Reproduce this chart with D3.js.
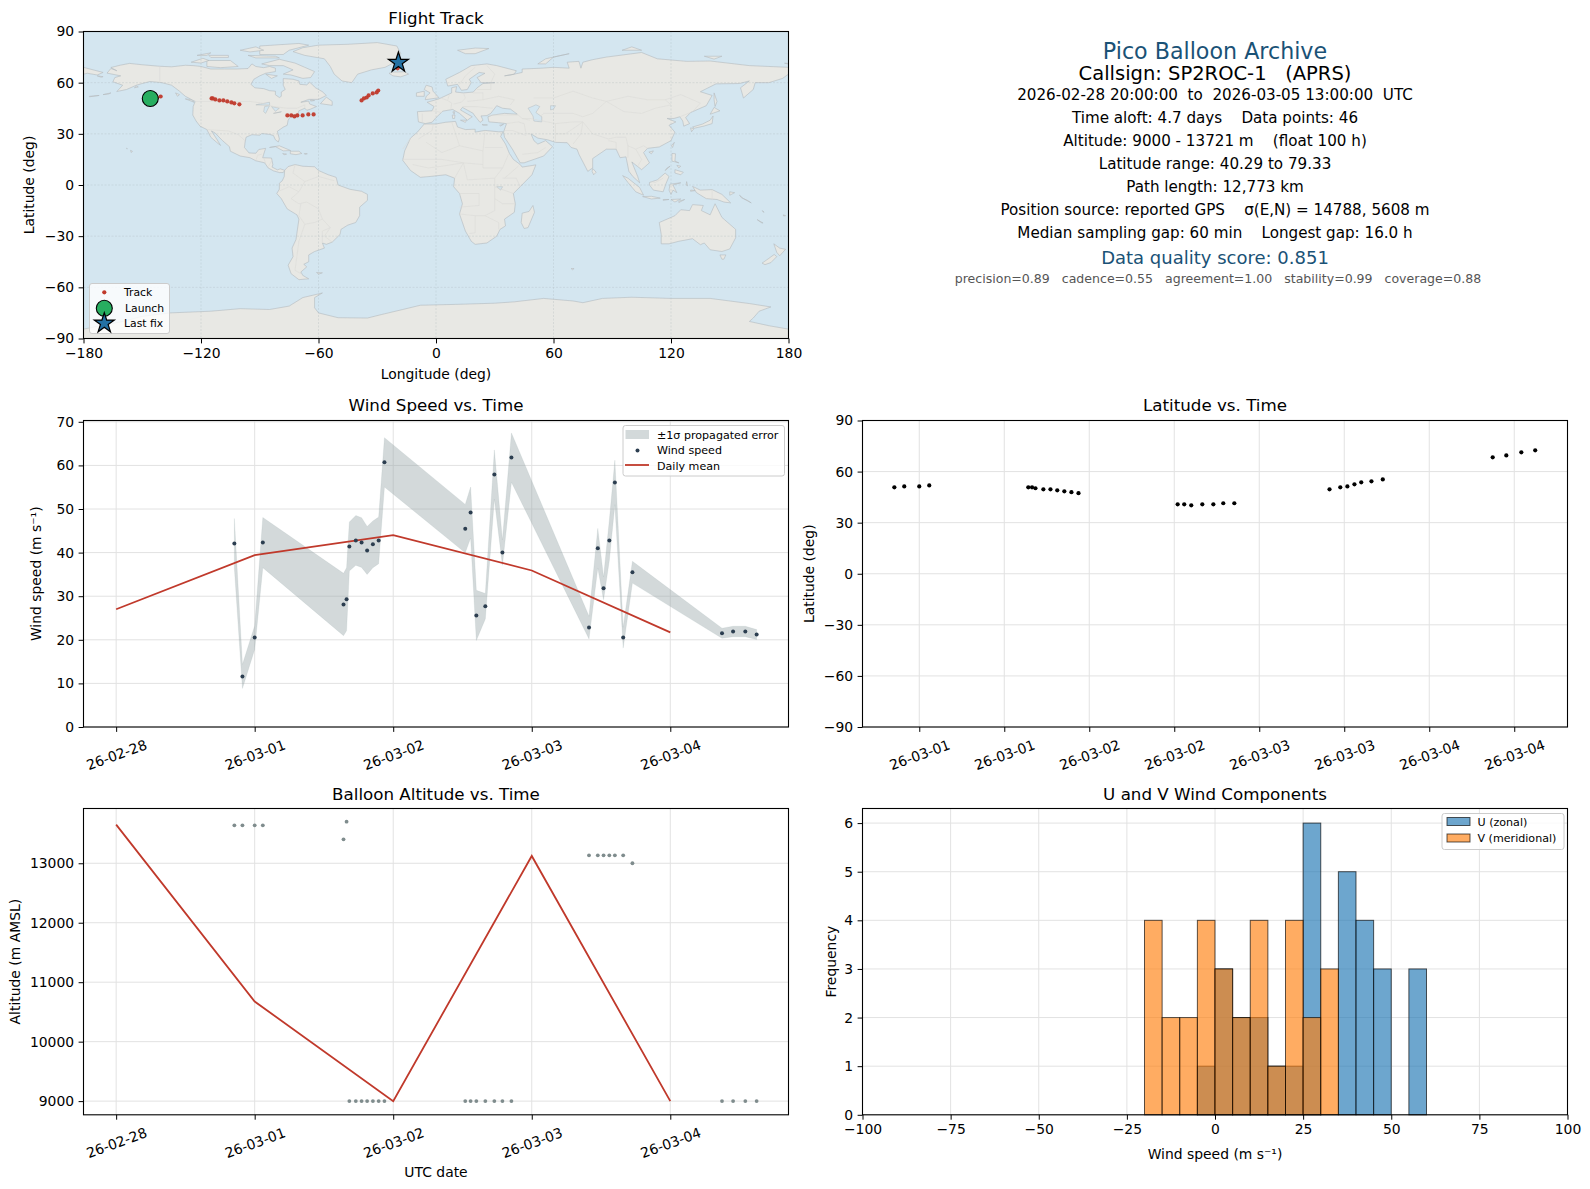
<!DOCTYPE html>
<html><head><meta charset="utf-8">
<script src="https://cdn.jsdelivr.net/npm/d3@7"></script>
<style>
html,body{margin:0;padding:0;background:#fff}
svg{display:block}
text{font-family:"DejaVu Sans",sans-serif;fill:#000}
</style></head><body><svg id="c" width="1590" height="1189"></svg>
<script>
// ---- shared sample times: hours since 2026-02-28 00:00 ----
const hours=[19.6,21.35,24,25.76,43.24,43.9,44.5,45.9,47.15,48.35,49.6,50.85,52.1,69.6,70.76,72,73.95,75.9,77.65,79.6,96.4,98.3,99.55,100.8,102,103.8,105.8,125.2,127.6,130.25,132.7];
const windSpeed=[42.1,11.6,20.5,42.3,28.1,29.3,41.4,42.8,42.3,40.5,41.9,42.8,60.7,45.5,49.2,25.6,27.7,57.9,40.0,61.8,22.8,41.0,31.8,42.8,56.1,20.5,35.5,21.5,21.9,21.9,21.2];
const windSigma=[5.7,2.75,2.7,5.75,7.15,7.2,5.6,5.7,5.7,5.5,5.35,5.35,5.65,5.55,5.85,5.75,2.9,5.65,2.9,5.65,2.6,4.55,2.6,4.6,5.1,2.4,2.5,1.15,1.2,1.2,1.15];
const latitude=[50.75,51.3,51.3,51.9,50.75,50.75,50.2,49.6,49.6,49,48.4,47.9,47.3,40.8,40.8,40.2,40.8,40.8,41.4,41.4,49.6,50.75,51.3,52.5,53.7,54.3,55.4,68.4,69.5,71.3,72.5];
const longitude=[-145.9,-144.5,-142.5,-140.6,-114.6,-114,-112.7,-110.6,-108.6,-106.6,-104.5,-103,-100.4,-75.9,-73.9,-72.3,-70.8,-68.1,-65.2,-62.5,-38,-36.8,-35.4,-34.4,-32.3,-30.3,-29.5,-19.6,-19.5,-19.3,-19.2];
const altitude=[13638,13638,13638,13638,13403,13700,9000,9000,9000,9000,9000,9000,9000,9000,9000,9000,9000,9000,9000,9000,13134,13134,13134,13134,13134,13134,13000,9000,9000,9000,9000];
// ---- daily means ----
const dayHours=[-6,24,54,84,114];
const dayLabels=["26-02-28","26-03-01","26-03-02","26-03-03","26-03-04"];
const windMean=[27,39.4,44,35.9,21.7];
const altMean=[13650,10675,9000,13123,9000];
// ---- latitude panel ticks ----
const latTickHours=[24,39,54,69,84,99,114,129];
const latTickLabels=["26-03-01","26-03-01","26-03-02","26-03-02","26-03-03","26-03-03","26-03-04","26-03-04"];
// ---- histogram ----
const binStart=[-5,0,5,10,15,20,25,30,35,40,45,50,55];
const uCounts=[1,3,2,2,1,1,6,0,5,4,3,0,3];
const vBinStart=[-20,-15,-10,-5,0,5,10,15,20,25,30];
const vCounts=[4,2,2,4,3,2,4,1,4,2,3];
// ---- info text ----
const infoTitle="Pico Balloon Archive";
const infoCall="Callsign: SP2ROC-1   (APRS)";
const infoLines=["2026-02-28 20:00:00  to  2026-03-05 13:00:00  UTC","Time aloft: 4.7 days    Data points: 46","Altitude: 9000 - 13721 m    (float 100 h)","Latitude range: 40.29 to 79.33","Path length: 12,773 km","Position source: reported GPS    σ(E,N) = 14788, 5608 m","Median sampling gap: 60 min    Longest gap: 16.0 h"];
const infoScore="Data quality score: 0.851";
const infoSub="precision=0.89   cadence=0.55   agreement=1.00   stability=0.99   coverage=0.88";
// ---- land outlines [lon,lat] ----
const land=[
[[-168,65.6],[-166,68.3],[-163,67],[-166,68.9],[-161,70.3],[-156.5,71.3],[-150,70.5],[-141,69.6],[-135,69.3],[-128,70.2],[-124,70],[-120,69.5],[-115,68],[-108,68],[-102,68],[-96,68.3],[-94,71],[-92,69.5],[-88,68.8],[-85,69.5],[-82,68.5],[-82,66.5],[-87,65.5],[-90,64],[-93,62],[-94.5,59],[-92.5,57],[-88,56.5],[-85,55.3],[-82,55],[-82,52.9],[-80,51.3],[-79,52],[-79,54.5],[-77,56],[-78,58.5],[-78,62.4],[-73,62],[-70,61],[-69.5,59],[-66,58.7],[-64.5,60.3],[-61.5,57],[-58,54.7],[-56,52.5],[-60,50.2],[-65,50.2],[-69,48.5],[-65,49.2],[-64.5,47.5],[-61,46],[-64,44.5],[-66,43.8],[-67,45],[-70,43.5],[-70.5,41.7],[-74,40.6],[-75.5,38],[-76,35],[-78,33.9],[-81,31.5],[-80,27],[-80.5,25.2],[-82,26.5],[-83,29],[-85,29.7],[-89,30.2],[-90,29.2],[-94,29.5],[-97,28],[-97.5,25],[-97.8,22],[-95.5,18.8],[-92,18.6],[-90.5,20.8],[-87,21.5],[-88,18],[-88.5,16],[-84,15.8],[-83.3,12],[-83.7,10.5],[-81,8.9],[-79.5,9.5],[-77.3,8.6],[-78,7.3],[-80,7.3],[-83,8.3],[-85.7,10],[-87.5,13],[-92,14.2],[-95,16],[-100,17],[-105,19.8],[-105.5,22.5],[-109,26],[-112.8,30.5],[-114.7,31.7],[-112,27],[-110,23.2],[-112,25],[-115,28],[-117,32.5],[-120.5,34.5],[-122.5,37.5],[-124.2,41],[-124,46],[-123,49],[-128,52],[-131,55],[-135,58.5],[-140,60],[-146,60.7],[-150,59.5],[-153,58.5],[-158,56],[-163,54.8],[-160,58.5],[-165,60.5],[-164,63],[-161,64],[-168,65.6]],
[[-73,78.2],[-68,80.5],[-60,82],[-45,82.5],[-30,83.5],[-20,81.5],[-18,77],[-21,72],[-26,69],[-33,67.5],[-40,65],[-43,60],[-48,61],[-52,65],[-54,69.5],[-57,74],[-67,76],[-73,78.2]],
[[-80,73.7],[-72,71.5],[-67,69],[-62,66.5],[-64,63],[-68,62.5],[-74,64.5],[-78,65],[-73,67.5],[-78,70],[-85,70],[-89,71],[-80,73.7]],
[[-117,73],[-105,73],[-101,69.5],[-110,68.8],[-117,69.5]],[[-125,72],[-119,74.3],[-116,73],[-120,71.5]],
[[-90,76.5],[-78,76.5],[-75,79],[-65,82],[-70,83],[-90,81.5]],[[-96,76],[-82,75.5],[-80,74.5],[-92,74.5]],
[[-116,76],[-106,76],[-106,74.8],[-115,74.8]],[[-100,79],[-92,81],[-88,79],[-95,78]],[[-122,76],[-115,77.5],[-117,76]],[[-87,65],[-81,64],[-84,62.5]],
[[-59,47.7],[-53,46.7],[-53,49],[-56,51.5]],[[-128,50.5],[-123.5,48.5],[-125,50]],[[-133,54],[-131,53],[-132,52]],[[-64,49.9],[-62,49.5],[-64,49.2]],
[[-85,22],[-80,23],[-74.2,20.2],[-78,20],[-82,22.5]],[[-74.4,19.8],[-70,19.8],[-68.5,18.5],[-71.5,17.8],[-74.4,18.3]],[[-78.3,18.4],[-76.3,18.1],[-77.5,17.8]],[[-67.2,18.5],[-65.7,18.3],[-67,18]],
[[-156,20.3],[-155,19.8],[-155.6,19]],[[-158,21.6],[-157.6,21.3],[-158,21.3]],
[[-177,52],[-172,52.5],[-177,51.7]],[[-170,53],[-166,54],[-167,53.4]],[[-153,58],[-152,57.5],[-154,57]],[[-173,64],[-170,63.5],[-171,63.2]],
[[-77.3,8.6],[-75.5,10.8],[-72,12],[-68,11],[-62,10.7],[-60,8.5],[-55,6],[-51,4.5],[-50,0],[-44,-2.5],[-38,-3.7],[-35,-5.5],[-35,-9],[-39,-13],[-39,-18],[-41,-22],[-45,-23.5],[-48.5,-26],[-49,-29],[-53,-33.5],[-56,-34.8],[-58,-34],[-57,-37],[-62,-39],[-65,-41],[-65,-45],[-67.5,-46.5],[-66,-48],[-69,-51],[-68,-53],[-65,-55],[-70,-55.5],[-74,-52],[-75.5,-47],[-73,-42],[-73.5,-37],[-71.5,-32],[-70,-20],[-71,-17.5],[-76,-14],[-79,-8],[-81.3,-5],[-80,-2.5],[-80,1],[-78.5,2.5],[-77.5,5]],
[[-61,-51.3],[-58,-51.5],[-60,-52.3]],
[[-6,35.8],[0,35.8],[5,36.8],[10,37.3],[11,34],[15,32.5],[20,32.7],[20,31],[25,32],[32,31.2],[34.3,31.2],[33,28.5],[35.5,24],[37.5,18.5],[39.5,15],[43,12],[44,10.5],[51,11.8],[49,6],[43,-1],[39.5,-5],[40.5,-11],[40,-16],[35,-20],[35.5,-24],[32.7,-26],[31,-30],[26,-34],[20,-34.8],[18,-33],[15,-27],[12,-17],[13.5,-11],[12,-5],[9,-1],[9.5,4],[5,6],[-3,5],[-8,4.5],[-13,8.5],[-17,14.5],[-16,20],[-13,27.5],[-9.5,31]],
[[-9,37],[-9.5,43],[-2,43.5],[-1,46],[-4.5,48.5],[1.5,50.5],[8,54],[8,57],[10.5,57.7],[10,54.5],[14,54],[19,54.5],[21,57],[24,59.5],[30,60],[23,60],[21,63],[25,65.5],[22,66],[17,62],[18,60],[16,56],[13,55.5],[11,59],[6,58],[5,62],[12,66],[18,70],[26,71],[31,70],[41,67],[40,65],[35,64],[38,64.5],[44,66],[44,68],[54,68.5],[60,69],[68,68.5],[67,72],[73,72.5],[74,68.5],[75,72],[80,73.5],[87,75],[105,77.7],[113,74],[128,72.5],[140,72.7],[160,70],[170,69.5],[180,69],[180,65],[177,62.5],[170,60],[163,60],[162,56],[157,51],[155.5,57],[160,61],[155,59.5],[143,59.3],[135,54.7],[141,52.5],[138,46.5],[130,42.5],[127.5,39.5],[129.5,36],[126.5,34.5],[126,37.5],[124.5,40],[121.5,39],[118,39],[122.5,37],[119,35],[122,31],[120,26],[114,22.3],[108,21.5],[106,19],[109,13],[105,9],[100,13.5],[103,5],[104,1.3],[100.5,5],[98.5,8],[97,16.5],[94,16],[92,21],[87,21],[80,15.5],[80,10],[77.5,8],[73,18],[72,21],[69,22],[67,24.8],[61,25],[57,26.5],[52,27.5],[48.5,30],[50,26],[52,24],[56,26],[59.5,22.5],[55,17],[45,13],[43,13],[39,21],[35,28],[34.5,31],[36,36],[32,36.5],[27,37],[26.5,40],[29,41],[35,42],[41.5,41.5],[38,44.5],[34,45],[31,46.5],[28,42],[26,40.7],[23,40.5],[24,38],[22.5,36.7],[19.5,41],[19,42],[13.5,45.5],[12.5,44],[18.5,40],[16,38],[12,42],[8.5,44.3],[3.5,43.3],[0,39.5],[-2,36.8],[-5.5,36]],
[[-180,69],[-175,67.5],[-170,66],[-173,64.5],[-178,65.5],[-180,65]],
[[-5.5,50],[1.5,51.2],[-1.5,55],[-2,57.5],[-5,58.5],[-6,56],[-3,54],[-5,52]],[[-10,52],[-6,52],[-6,55],[-10,54]],
[[-24,65.5],[-22,64],[-18,63.4],[-14,65],[-16,66.4],[-22,66.2]],[[11,79],[20,80.3],[27,80],[20,77],[15,77]],[[52,71],[56,74],[68,77],[60,75],[56,71]],
[[95,79],[105,79],[100,81]],[[137,75.5],[146,75.5],[142,73.8]],[[178,71.4],[180,71.3],[180,70.9]],[[142,54],[143.5,49],[142.5,46],[142,50]],
[[140,41.5],[145,43.5],[142,45.5]],[[131,34],[136,35.7],[140,38],[141.5,40.5],[141,36],[137,34.6],[132,33.3]],[[130,33.5],[131.7,33],[130.5,31.2]],[[120.2,23],[121.7,25],[120.8,22]],[[108.7,19.3],[111,20],[110,18.3]],
[[120.5,18.5],[122.3,18.3],[122,14],[124,13],[120.5,14]],[[122,9],[126.3,7.5],[125,6],[122,7]],[[118,10],[119.5,11],[117,8.5]],[[123,11.5],[125,11],[124,10]],
[[109,1.5],[113,3],[117,7],[119,5],[117.5,1],[116,-4],[111,-3],[109,0]],[[95.3,5.5],[98,4],[104,-1.5],[106,-6],[102,-4],[98,1.5]],[[105.5,-6.8],[110,-6.6],[114.5,-7.7],[110,-8.2]],
[[119.5,0.5],[125,1.3],[121,0],[123,-4.5],[121,-3],[120,-5.5],[119,-3]],[[128,2],[128.5,-0.5],[127.7,0]],[[116,-8.5],[119,-8.5],[116,-9]],[[120,-8.5],[125,-8.2],[122,-10]],[[124,-9.5],[127,-8.5],[124,-10.3]],[[130,-3],[133,-3.2],[130,-3.7]],
[[131,-0.8],[135,-3],[141,-2.7],[146,-5.5],[150.5,-10.5],[147,-10],[143.5,-8.5],[138,-8],[133,-4.5]],[[150,-4],[152.5,-4.5],[150,-6]],[[155,-6],[156,-7.5],[159,-9],[161,-10.5],[157,-8]],
[[114,-22],[122,-18],[125,-14.5],[129.5,-15],[131,-11.5],[136.5,-12],[135.5,-15],[140,-17.5],[142.5,-11],[146,-19],[153,-26],[153,-31],[150,-37.5],[146,-39],[140,-38],[137,-34],[135,-35],[131,-31.5],[124,-33],[119,-34.5],[115,-34.5],[115,-29]],
[[145,-41],[148,-41],[147,-43.5],[146,-43.5]],[[172.5,-34.5],[175.5,-37],[178.5,-37.7],[175.5,-41.5],[174,-39.5]],[[172.7,-40.7],[174,-42],[171,-45.5],[168,-46.7],[166.5,-45.8],[170,-43]],
[[164,-20.3],[167,-22.3],[166,-22]],[[177.3,-17.5],[178.5,-18],[177.5,-18.2]],[[166.7,-15],[167.5,-16],[167,-15.8]],
[[44,-16.5],[47.5,-15.5],[49.5,-12],[50.3,-16],[47,-25],[45,-25.5],[43.5,-22]],[[80,9.7],[81.8,7.5],[80.5,6],[79.7,8]],[[69,-49],[70.5,-49],[69.7,-49.7]],
[[12.5,38],[15.6,38],[15,36.7]],[[8.3,41],[9.7,41],[9.5,39],[8.5,39]],[[8.6,42.9],[9.5,43],[9.3,41.5]],[[23.5,35.5],[26.3,35.2],[24,35]],[[32.5,35],[34.5,35.6],[33,34.6]],
[[-180,-84.5],[-160,-80],[-150,-77],[-136,-75],[-115,-74],[-100,-72.5],[-85,-73],[-75,-71],[-68,-66],[-58,-63.3],[-62,-66],[-62,-72],[-60,-75],[-50,-77.8],[-35,-78],[-28,-76],[-17,-73],[-8,-70.5],[10,-70],[30,-69.3],[40,-68.5],[55,-66.5],[70,-68],[75,-69],[85,-66.5],[100,-65.8],[120,-66.5],[140,-66.5],[160,-69.5],[171,-71.5],[165,-74],[162,-78],[160,-80],[170,-82.5],[180,-84.5],[180,-90],[-180,-90]]
];
const inlandSeas=[[[47,45],[51,47],[53,46],[51,42.5],[54,40],[54,37],[50,37.5],[49.5,40.5]],[[58.5,46.5],[61,46.5],[60,44.5],[58.5,44]],[[-87.5,46],[-85,46.5],[-87,42],[-88,43]],[[-92,47],[-85,48.5],[-85,46.8]],[[-84,46],[-80,45],[-82,43.2]],[[-83,42],[-79,43],[-79,42.8]],[[31,-1],[34,-1],[33,-3]]];
const borders=[[[-141,69.6],[-141,60]],[[-123,49],[-95,49],[-89,48],[-83,46],[-76,45],[-71,45],[-67,47],[-67,45]],[[-117,32.5],[-106,31.7],[-101,29.5],[-97.5,26]],[[-92,14.5],[-91,17.5],[-89,18]],[[-88,16],[-87,13]],[[-83.5,15],[-85.5,11]],[[-72,12],[-73,7],[-67,2],[-70,-4],[-74,-8],[-70,-11],[-66,-10],[-60,-14],[-58,-20],[-54,-25],[-57,-30],[-53,-33.5]],[[-60,8.5],[-60,5],[-52,2.5]],[[-67,2],[-60,5]],[[-80,-3.5],[-75,-1],[-70,-4]],[[-70,-18],[-69,-11]],[[-70,-18],[-67,-23],[-70,-33],[-72,-50],[-69,-52]],[[-67,-23],[-62,-22],[-58,-20]],[[-58,-34],[-58,-27],[-54,-25]],
[[-9,27],[-2,32],[-1.5,35]],[[-17,21],[-13,27.5]],[[-5,25],[3,19],[12,23],[10,30],[8,37]],[[12,23],[24,20],[25,32]],[[24,20],[24,10],[34,10],[37,18]],[[34,22],[25,22]],[[-17,15],[-5,15],[3,15],[14,13],[24,12]],[[-12,12],[-4,10],[3,11],[14,13]],[[9.5,4],[14,13]],[[14,13],[16,3],[30,4],[34,10]],[[30,4],[30,-8],[30,-15],[25,-18],[20,-18],[12,-17]],[[12,-5],[22,-5],[22,-12],[12,-13]],[[34,4],[41,4],[43,-1]],[[39.5,-5],[30,-1]],[[40.5,-11],[34,-11],[30,-8]],[[20,-18],[20,-28],[17,-28.5]],[[25,-18],[32,-22],[32,-26]],[[35,4],[42,11]],
[[-2,43.5],[3,42.5]],[[-7,42],[-7,37]],[[2.5,51],[6,49.5],[8,48],[7.5,44]],[[7,53.5],[6,50]],[[14,54],[15,51],[13,48.5],[9,47.5]],[[13.5,46],[20,46],[29,45]],[[19,54],[24,54],[24,50],[16,49]],[[24,50],[32,52],[40,50],[38,47]],[[21,56],[28,56],[28,60]],[[12,59],[15,64],[20,69]],[[26,70],[30,65],[28,60]],
[[27,41],[42,41],[44,39],[48,38]],[[36,36],[42,37],[45,36],[46,30],[48,30]],[[35,32],[39,32],[46,29]],[[44,18],[52,19],[56,22]],[[44,39],[48,39],[61,36],[61,30],[61,25]],[[61,36],[70,37],[75,37]],[[61,30],[66,30],[70,33],[75,37]],[[75,37],[74,30],[70,24]],[[75,37],[80,30],[88,27],[92,28],[97,28]],[[50,51],[60,51],[70,55],[80,51],[87,49],[98,52],[108,50],[117,50],[125,53],[135,48],[131,43]],[[87,49],[80,42],[75,40],[70,42],[55,42],[53,40]],[[87,49],[96,43],[105,42],[112,45],[120,47],[117,50]],[[97,28],[98,23],[102,21],[106,23],[108,21.5]],[[92,21],[92,25],[88,26]],[[98,23],[98,16]],[[102,21],[105,15],[103,11]],[[124.5,40],[130,42.5]],[[116,4],[112,1.5],[109.5,2]],[[141,-2.7],[141,-9]]
];

const svg=d3.select("#c");
const P={L:[83.5,788.5],R:[862.5,1567.5],R1:[31.5,338.5],R2:[420.5,727],R3:[808.5,1114.8]};
const gridC="#e2e2e2",tickFs=13.9,labFs=13.9,titleFs=16.7,legFs=11.1;

function mkAxes(xr,yr,title,xlab,ylab,yOff,tOff){
  const g=svg.append("g");
  g.append("text").attr("x",(xr[0]+xr[1])/2).attr("y",yr[0]-(tOff||7.5)).attr("text-anchor","middle").attr("font-size",titleFs).text(title);
  if(xlab) g.append("text").attr("class","xl").attr("x",(xr[0]+xr[1])/2).attr("text-anchor","middle").attr("font-size",labFs).text(xlab);
  if(ylab) g.append("text").attr("transform",`translate(${xr[0]-yOff},${(yr[0]+yr[1])/2}) rotate(-90)`).attr("text-anchor","middle").attr("font-size",labFs).text(ylab);
  return g;
}
function axes(xS,yS,yr,xr,xVals,xFmt,yVals,rot){
  const ax=svg.append("g").attr("transform",`translate(0,${yr[1]})`)
    .call(d3.axisBottom(xS).tickValues(xVals).tickFormat(xFmt).tickSize(4.9).tickPadding(4.5).tickSizeOuter(0));
  const ay=svg.append("g").attr("transform",`translate(${xr[0]},0)`)
    .call(d3.axisLeft(yS).tickValues(yVals).tickFormat(d3.format("d")).tickSize(4.9).tickPadding(4.5).tickSizeOuter(0));
  [ax,ay].forEach(a=>{a.select(".domain").remove();a.selectAll("line").attr("stroke","#000").attr("stroke-width",1);a.selectAll("text").attr("font-size",tickFs).attr("font-family","DejaVu Sans").attr("fill","#000");});
  if(rot) ax.selectAll("text").attr("text-anchor","middle").attr("y",0).attr("dy",".35em").attr("transform","translate(0,28) rotate(-20)");
}
function frame(xr,yr){svg.append("rect").attr("x",xr[0]).attr("y",yr[0]).attr("width",xr[1]-xr[0]).attr("height",yr[1]-yr[0]).attr("fill","none").attr("stroke","#000").attr("stroke-width",1.1);}
function grid(g,xS,yS,xVals,yVals,yr,xr,col,dash,w){
  g.selectAll(null).data(xVals).join("line").attr("x1",d=>xS(d)).attr("x2",d=>xS(d)).attr("y1",yr[0]).attr("y2",yr[1]).attr("stroke",col).attr("stroke-width",w||1).attr("stroke-dasharray",dash||null);
  g.selectAll(null).data(yVals).join("line").attr("y1",d=>yS(d)).attr("y2",d=>yS(d)).attr("x1",xr[0]).attr("x2",xr[1]).attr("stroke",col).attr("stroke-width",w||1).attr("stroke-dasharray",dash||null);
}
function clip(id,xr,yr){svg.append("clipPath").attr("id",id).append("rect").attr("x",xr[0]).attr("y",yr[0]).attr("width",xr[1]-xr[0]).attr("height",yr[1]-yr[0]);}
function legendBox(x,y,w,h){svg.append("rect").attr("x",x).attr("y",y).attr("width",w).attr("height",h).attr("rx",2.5).attr("fill","#fff").attr("fill-opacity",.8).attr("stroke","#ccc").attr("stroke-width",1);}
function legText(x,y,t,fs){svg.append("text").attr("x",x).attr("y",y).attr("dy",".35em").attr("font-size",fs||legFs).text(t);}

// ======== Map ========
{
  const xr=P.L,yr=P.R1;
  const xS=d3.scaleLinear().domain([-180,180]).range(xr),yS=d3.scaleLinear().domain([-90,90]).range([yr[1],yr[0]]);
  const lonT=d3.range(-180,181,60),latT=d3.range(-90,91,30);
  clip("cm",xr,yr);
  const g=svg.append("g").attr("clip-path","url(#cm)");
  g.append("rect").attr("x",xr[0]).attr("y",yr[0]).attr("width",xr[1]-xr[0]).attr("height",yr[1]-yr[0]).attr("fill","#d4e6f1");
  const line=d3.line().x(d=>xS(d[0])).y(d=>yS(d[1]));
  g.selectAll(null).data(land).join("path").attr("d",d=>line(d)+"Z").attr("fill","#e8e8e4").attr("stroke","#b4babd").attr("stroke-width",.6).attr("stroke-linejoin","round");
  g.selectAll(null).data(inlandSeas).join("path").attr("d",d=>line(d)+"Z").attr("fill","#d4e6f1").attr("stroke","#b4babd").attr("stroke-width",.5);
  g.selectAll(null).data(borders).join("path").attr("d",line).attr("fill","none").attr("stroke","#dcdcd8").attr("stroke-width",.6);
  const gg=g.append("g");grid(gg,xS,yS,lonT,latT,yr,xr,"#a9b4b8","2,1.5",.5);gg.attr("opacity",.6);
  g.selectAll(null).data(d3.zip(longitude,latitude)).join("circle").attr("cx",d=>xS(d[0])).attr("cy",d=>yS(d[1])).attr("r",2.1).attr("fill","#c0392b").attr("fill-opacity",.95);
  const star=d3.symbol().type(d3.symbolStar);
  g.append("circle").attr("cx",xS(longitude[0])).attr("cy",yS(latitude[0])).attr("r",8).attr("fill","#27ae60").attr("stroke","#000").attr("stroke-width",1.1);
  const lastI=longitude.length-1;
  svg.append("path").attr("d",star.size(125)()).attr("transform",`translate(${xS(longitude[lastI])},${yS(71.8)})`).attr("fill","#2471a3").attr("stroke","#000").attr("stroke-width",1.2);
  mkAxes(xr,yr,"Flight Track","Longitude (deg)","Latitude (deg)",50).select(".xl").attr("y",yr[1]+40);
  axes(xS,yS,yr,xr,lonT,d3.format("d"),latT,false);
  frame(xr,yr);
  legendBox(89.5,283.5,80,50);
  svg.append("circle").attr("cx",104.3).attr("cy",292.3).attr("r",2.1).attr("fill","#c0392b");
  svg.append("circle").attr("cx",104.3).attr("cy",308.3).attr("r",8).attr("fill","#27ae60").attr("stroke","#000").attr("stroke-width",1.1);
  svg.append("path").attr("d",star.size(125)()).attr("transform","translate(104.3,323.3)").attr("fill","#2471a3").attr("stroke","#000").attr("stroke-width",1.2);
  legText(124,292.5,"Track",10.8);legText(125,308,"Launch",10.8);legText(124,323,"Last fix",10.8);
}
// ======== Info ========
{
  const cx=(P.R[0]+P.R[1])/2;
  const t=(y,s,fs,c,dx)=>svg.append("text").attr("x",cx+(dx||0)).attr("y",y).attr("text-anchor","middle").attr("xml:space","preserve").style("white-space","pre").attr("font-size",fs).style("fill",c||"#000").text(s);
  t(58.5,infoTitle,22.2,"#1a5276");
  t(80,infoCall,19.5,"#000");
  const ys=[100,123,146,168.5,191.5,214.5,238];
  infoLines.forEach((s,i)=>t(ys[i],s,15.15,"#000"));
  t(263.5,infoScore,18,"#1a5276");
  t(283,infoSub,12.55,"#555",3);
}
// ======== Wind ========
{
  const xr=P.L,yr=P.R2;
  const xS=d3.scaleLinear().domain([-13.07,139.6]).range(xr),yS=d3.scaleLinear().domain([0,70.3]).range([yr[1],yr[0]]);
  grid(svg.append("g"),xS,yS,dayHours,d3.range(0,71,10),yr,xr,gridC);
  const rows=hours.map((h,i)=>({h,v:windSpeed[i],s:windSigma[i]}));
  svg.append("path").attr("d",d3.area().x(d=>xS(d.h)).y0(d=>yS(d.v-d.s)).y1(d=>yS(d.v+d.s))(rows)).attr("fill","#95a5a6").attr("fill-opacity",.42).attr("stroke","#95a5a6").attr("stroke-opacity",.15);
  svg.append("path").attr("d",d3.line().x((d,i)=>xS(dayHours[i])).y(d=>yS(d))(windMean)).attr("fill","none").attr("stroke","#c0392b").attr("stroke-width",1.8);
  svg.selectAll(null).data(rows).join("circle").attr("cx",d=>xS(d.h)).attr("cy",d=>yS(d.v)).attr("r",2).attr("fill","#2c3e50");
  mkAxes(xr,yr,"Wind Speed vs. Time",null,"Wind speed (m s⁻¹)",43,9.5);
  axes(xS,yS,yr,xr,dayHours,(d,i)=>dayLabels[i],d3.range(0,71,10),true);
  frame(xr,yr);
  legendBox(623,425.5,161.5,50.5);
  svg.append("rect").attr("x",625.5).attr("y",430).attr("width",23.5).attr("height",9).attr("fill","#95a5a6").attr("fill-opacity",.42);
  svg.append("circle").attr("cx",637.5).attr("cy",450.5).attr("r",2).attr("fill","#2c3e50");
  svg.append("line").attr("x1",625).attr("x2",649).attr("y1",465).attr("y2",465).attr("stroke","#c0392b").attr("stroke-width",1.8);
  legText(657,435.5,"±1σ propagated error");legText(657,450.5,"Wind speed");legText(657,466,"Daily mean");
}
// ======== Latitude ========
{
  const xr=P.R,yr=P.R2;
  const xS=d3.scaleLinear().domain([13.98,138.4]).range(xr),yS=d3.scaleLinear().domain([-90,90]).range([yr[1],yr[0]]);
  const latT=d3.range(-90,91,30);
  grid(svg.append("g"),xS,yS,latTickHours,latT,yr,xr,gridC);
  svg.selectAll(null).data(d3.zip(hours,latitude)).join("circle").attr("cx",d=>xS(d[0])).attr("cy",d=>yS(d[1])).attr("r",2.1).attr("fill","#000");
  mkAxes(xr,yr,"Latitude vs. Time",null,"Latitude (deg)",49,9.5);
  axes(xS,yS,yr,xr,latTickHours,(d,i)=>latTickLabels[i],latT,true);
  frame(xr,yr);
}
// ======== Altitude ========
{
  const xr=P.L,yr=P.R3;
  const xS=d3.scaleLinear().domain([-13.07,139.6]).range(xr),yS=d3.scaleLinear().domain([8770,13921]).range([yr[1],yr[0]]);
  const yT=[9000,10000,11000,12000,13000];
  grid(svg.append("g"),xS,yS,dayHours,yT,yr,xr,gridC);
  svg.selectAll(null).data(d3.zip(hours,altitude)).join("circle").attr("cx",d=>xS(d[0])).attr("cy",d=>yS(d[1])).attr("r",1.9).attr("fill","#7f8c8d");
  svg.append("path").attr("d",d3.line().x((d,i)=>xS(dayHours[i])).y(d=>yS(d))(altMean)).attr("fill","none").attr("stroke","#c0392b").attr("stroke-width",1.8);
  mkAxes(xr,yr,"Balloon Altitude vs. Time","UTC date","Altitude (m AMSL)",64,8.5).select(".xl").attr("y",yr[1]+62);
  axes(xS,yS,yr,xr,dayHours,(d,i)=>dayLabels[i],yT,true);
  frame(xr,yr);
}
// ======== Histogram ========
{
  const xr=P.R,yr=P.R3;
  const xS=d3.scaleLinear().domain([-100,100]).range(xr),yS=d3.scaleLinear().domain([0,6.3]).range([yr[1],yr[0]]);
  const xT=d3.range(-100,101,25),yT=d3.range(0,7);
  grid(svg.append("g"),xS,yS,xT,yT,yr,xr,gridC);
  const bars=(st,ct,c)=>svg.selectAll(null).data(d3.zip(st,ct).filter(d=>d[1]>0)).join("rect").attr("x",d=>xS(d[0])).attr("width",d=>xS(d[0]+5)-xS(d[0])).attr("y",d=>yS(d[1])).attr("height",d=>yS(0)-yS(d[1])).attr("fill",c).attr("fill-opacity",.65).attr("stroke","#000").attr("stroke-opacity",.65).attr("stroke-width",1);
  bars(binStart,uCounts,"#1f77b4");
  bars(vBinStart,vCounts,"#ff7f0e");
  const a=mkAxes(xr,yr,"U and V Wind Components","Wind speed (m s⁻¹)","Frequency",27,8.5);a.select(".xl").attr("y",yr[1]+44);
  axes(xS,yS,yr,xr,xT,d3.format("d"),yT,false);
  frame(xr,yr);
  legendBox(1442,813.5,122,36);
  svg.append("rect").attr("x",1447).attr("y",817.5).attr("width",23).attr("height",8).attr("fill","#1f77b4").attr("fill-opacity",.65).attr("stroke","#000").attr("stroke-opacity",.65);
  svg.append("rect").attr("x",1447).attr("y",834).attr("width",23).attr("height",8).attr("fill","#ff7f0e").attr("fill-opacity",.65).attr("stroke","#000").attr("stroke-opacity",.65);
  legText(1477.5,822,"U (zonal)");legText(1477.5,838,"V (meridional)");
}
</script></body></html>
